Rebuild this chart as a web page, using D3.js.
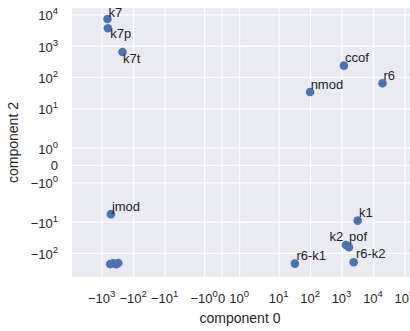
<!DOCTYPE html>
<html><head><meta charset="utf-8">
<script src="https://cdn.jsdelivr.net/npm/d3@7"></script>
<style>
html,body{margin:0;padding:0;background:#fff;}
svg{display:block;font-family:"Liberation Sans",Arial,sans-serif;}
</style></head>
<body>
<svg id="chart" width="410" height="331"></svg>
<script>
// ---- data ----
const labels = ["k7","k7p","k7t","ccof","nmod","r6","k1","k2","pof","r6-k2","r6-k1","jmod","","","",""];
const comp0  = [-650,-630,-216,1190,100,20000,3260,1380,1720,2430,33,-506,-533,-428,-343,-296];
const comp2  = [7160,3600,631,230,33,63,-9.3,-56,-66,-199,-220,-5.8,-228,-215,-230,-210];
const xTicks = [-1000,-100,-10,-1,0,1,10,100,1000,10000,100000];
const yTicks = [-100,-10,-1,0,1,10,100,1000,10000];
const xLim = [-8700,173000];
const yLim = [-590,16000];
const xTitle = "component 0";
const yTitle = "component 2";
// label placement (text start relative to point)
const labelOffsets = {
  "k7":[1,-1.5,"start"], "k7p":[2.3,9.7,"start"], "k7t":[0.5,11.3,"start"],
  "ccof":[1,-4,"start"], "nmod":[0.6,-3,"start"], "r6":[1,-3.3,"start"],
  "k1":[1.3,-4,"start"], "k2":[-2.6,-3.5,"end"], "pof":[0,-6,"start"],
  "r6-k2":[2.3,-4,"start"], "r6-k1":[1.6,-3.7,"start"], "jmod":[1,-3.6,"start"]
};

// ---- symlog transform (linthresh 2, linscale 1, base 10) ----
const LT = 2, LA = 1/(1-1/10);
function fwd(v){ const a=Math.abs(v); return a<=LT ? v/LT*LA : Math.sign(v)*(LA+Math.log10(a/LT)); }
function inv(t){ const a=Math.abs(t); return a<=LA ? t*LT/LA : Math.sign(t)*LT*Math.pow(10,a-LA); }
function symScale(lin){
  const s = v => lin(fwd(v));
  s.copy = () => symScale(lin.copy());
  s.range = () => lin.range();
  s.domain = () => lin.domain().map(inv);
  return s;
}

const L=72, R=412, T=8, B=277;
const x = symScale(d3.scaleLinear().domain(xLim.map(fwd)).range([L,R]));
const y = symScale(d3.scaleLinear().domain(yLim.map(fwd)).range([B,T]));

const svg = d3.select("#chart");
const txt = "#262626";
const blue = "#4c72b0";

svg.append("rect").attr("x",L).attr("y",T).attr("width",R-L).attr("height",B-T).attr("fill","#eaeaf2");

// grid via axes
const gx = svg.append("g").attr("transform",`translate(0,${B})`)
  .call(d3.axisBottom(x).tickValues(xTicks).tickSizeInner(-(B-T)).tickSizeOuter(0).tickFormat(""));
const gy = svg.append("g").attr("transform",`translate(${L},0)`)
  .call(d3.axisLeft(y).tickValues(yTicks).tickSizeInner(-(R-L)).tickSizeOuter(0).tickFormat(""));
[gx,gy].forEach(g=>{
  g.select(".domain").remove();
  g.selectAll(".tick line").attr("stroke","#fff").attr("stroke-width",1.25);
});

function powParts(v){
  if(v===0) return null;
  const e = Math.round(Math.log10(Math.abs(v)));
  return {base:(v<0?"\u221210":"10"), exp:String(e)};
}
function writeLabel(sel, v){
  const p = powParts(v);
  if(!p){ sel.text("0"); return; }
  sel.append("tspan").text(p.base);
  sel.append("tspan").attr("dy",-6).attr("font-size",9.5).text(p.exp);
}

// x tick labels
const xl = svg.append("g").selectAll("text").data(xTicks).join("text")
  .attr("x",d=>x(d)).attr("y",303).attr("text-anchor","middle")
  .attr("font-size",13).attr("fill",txt);
xl.each(function(d){ writeLabel(d3.select(this), d); });

// y tick labels
const yl = svg.append("g").selectAll("text").data(yTicks).join("text")
  .attr("x",58).attr("y",d=>y(d)+ (d===0?5:6)).attr("text-anchor","end")
  .attr("font-size",13).attr("fill",txt);
yl.each(function(d){ writeLabel(d3.select(this), d); });

// axis titles
svg.append("text").attr("x",(L+R-4)/2).attr("y",323).attr("text-anchor","middle")
  .attr("font-size",14).attr("fill",txt).text(xTitle);
svg.append("text").attr("transform",`translate(18,${(T+B)/2}) rotate(-90)`)
  .attr("text-anchor","middle").attr("font-size",14).attr("fill",txt).text(yTitle);

// points
const pts = comp0.map((v,i)=>({x:v,y:comp2[i],label:labels[i]}));
const plot = svg.append("g");
plot.selectAll("circle").data(pts).join("circle")
  .attr("cx",d=>x(d.x)).attr("cy",d=>y(d.y)).attr("r",4.3).attr("fill",blue);

plot.selectAll("text").data(pts.filter(d=>d.label)).join("text")
  .attr("x",d=>x(d.x)+labelOffsets[d.label][0])
  .attr("y",d=>y(d.y)+labelOffsets[d.label][1])
  .attr("text-anchor",d=>labelOffsets[d.label][2])
  .attr("font-size",13).attr("fill","#222").text(d=>d.label);
</script>
</body></html>
